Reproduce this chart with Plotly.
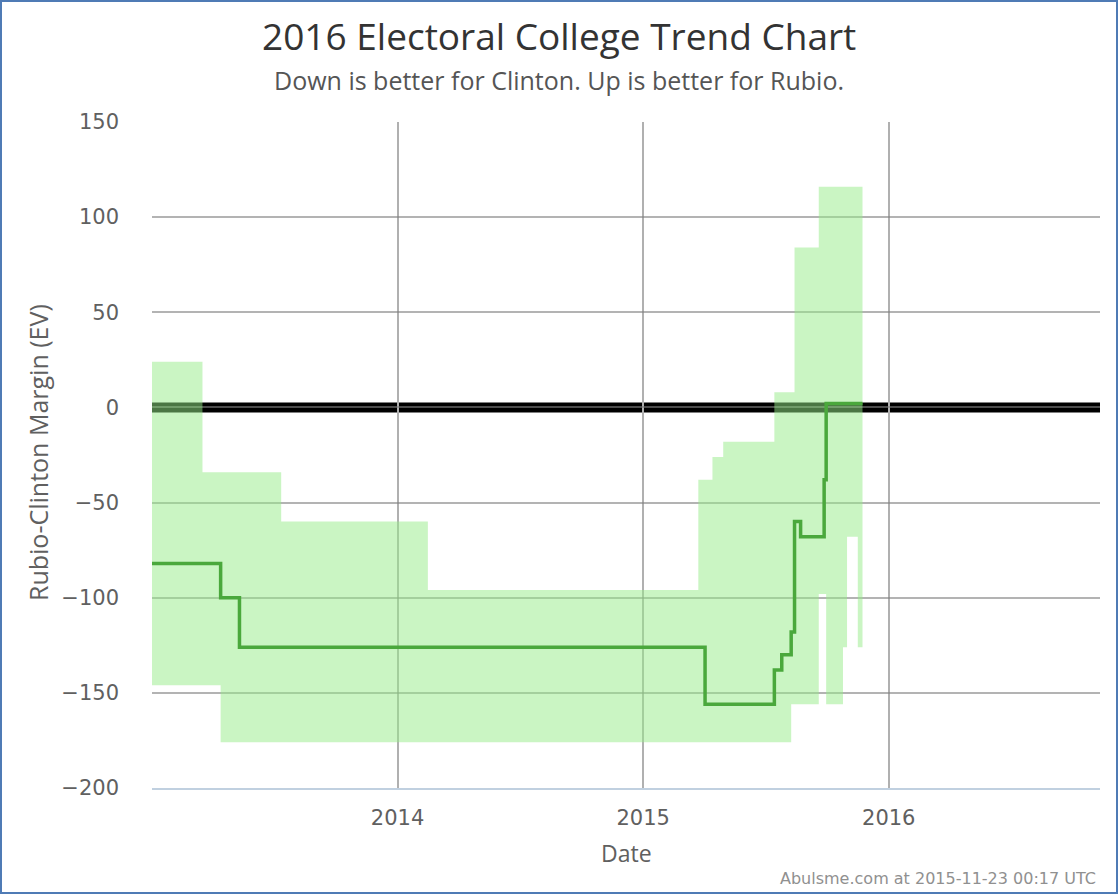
import plotly.graph_objects as go

# Median (center) line: step changes
line_dates = ["2013-01-01", "2013-04-13", "2013-05-11", "2015-04-03", "2015-07-15",
              "2015-07-26", "2015-08-09", "2015-08-14", "2015-08-23", "2015-09-27",
              "2015-09-30", "2015-11-23"]
line_values = [-82, -100, -126, -156, -138, -130, -118, -60, -68, -38, 2, 2]

# Band (range) step changes
band_dates = ["2013-01-01", "2013-03-17", "2013-04-13", "2013-07-12", "2014-02-15",
              "2015-03-24", "2015-04-14", "2015-04-30", "2015-07-15", "2015-08-09",
              "2015-08-14", "2015-09-19", "2015-09-30", "2015-10-25", "2015-10-31",
              "2015-11-16", "2015-11-23"]
band_upper = [24, -34, -34, -60, -96, -38, -26, -18, 8, 8, 84, 116, 116, 116, 116, 116, 116]
band_lower = [-146, -146, -176, -176, -176, -176, -176, -176, -176, -156, -156, -98,
              -156, -126, -68, -126, -126]

x_tick_vals = ["2014-01-01", "2015-01-01", "2016-01-01"]
x_tick_text = ["2014", "2015", "2016"]
y_tick_vals = [-200, -150, -100, -50, 0, 50, 100, 150]

W, H = 1120, 896
L, R, T, B = 152, 20, 122, 108
PW, PH = W - L - R, H - T - B


def px(xp):
    return (xp - L) / PW


def py(yp):
    return (H - B - yp) / PH


fig = go.Figure()
fig.add_trace(go.Scatter(x=band_dates, y=band_lower, mode="lines", line=dict(width=0, shape="hv"),
                         hoverinfo="skip", showlegend=False))
fig.add_trace(go.Scatter(x=band_dates, y=band_upper, mode="lines", line=dict(width=0, shape="hv"),
                         fill="tonexty", fillcolor="rgba(150,235,135,0.5)",
                         hoverinfo="skip", showlegend=False))
fig.add_trace(go.Scatter(x=line_dates, y=line_values, mode="lines",
                         line=dict(color="#4aa83c", width=3.5, shape="hv"), showlegend=False))

tick_font = dict(family="DejaVu Sans", size=21, color="#606060")
title_font_family = "Open Sans"

fig.update_layout(
    width=W, height=H,
    margin=dict(l=L, r=R, t=T, b=B),
    paper_bgcolor="white", plot_bgcolor="white",
    showlegend=False,
    xaxis=dict(type="date", range=["2013-01-01", "2016-11-10"],
               tickmode="array", tickvals=x_tick_vals, ticktext=x_tick_text,
               showgrid=True, gridcolor="#b0b0b0", gridwidth=1.5,
               showline=True, linecolor="#c0d0e0", linewidth=2,
               ticks="", tickfont=tick_font, ticklabelstandoff=10, zeroline=False),
    yaxis=dict(range=[-200, 150], tickmode="array", tickvals=y_tick_vals,
               showgrid=True, gridcolor="rgba(128,128,128,0.6)", gridwidth=1.5, zeroline=False,
               ticks="", tickfont=tick_font, ticklabelstandoff=32, showline=False),
    shapes=[
        dict(type="line", xref="paper", x0=0, x1=1, yref="y", y0=0, y1=0,
             line=dict(color="black", width=10), layer="below"),
        dict(type="rect", xref="paper", yref="paper",
             x0=px(1), x1=px(1117), y0=py(893), y1=py(1),
             line=dict(color="#4f7bb5", width=2), layer="above"),
    ],
    annotations=[
        dict(text="2016 Electoral College Trend Chart", xref="paper", yref="paper",
             x=px(559), y=py(36), xanchor="center", yanchor="middle", showarrow=False,
             font=dict(family=title_font_family, size=37, color="#333333")),
        dict(text="Down is better for Clinton. Up is better for Rubio.", xref="paper", yref="paper",
             x=px(559), y=py(80), xanchor="center", yanchor="middle", showarrow=False,
             font=dict(family=title_font_family, size=25, color="#555555")),
        dict(text="Date", xref="paper", yref="paper", x=0.5, y=py(853),
             xanchor="center", yanchor="middle", showarrow=False,
             font=dict(family=title_font_family, size=23, color="#606060")),
        dict(text="Rubio-Clinton Margin (EV)", xref="paper", yref="paper", x=px(38), y=py(453),
             xanchor="center", yanchor="middle", textangle=-90, showarrow=False,
             font=dict(family=title_font_family, size=25, color="#606060")),
        dict(text="Abulsme.com at 2015-11-23 00:17 UTC", xref="paper", yref="paper",
             x=px(1098), y=py(878), xanchor="right", yanchor="middle", showarrow=False,
             font=dict(family="DejaVu Sans", size=16, color="#909090")),
    ],
)

fig.write_html("out.html")
